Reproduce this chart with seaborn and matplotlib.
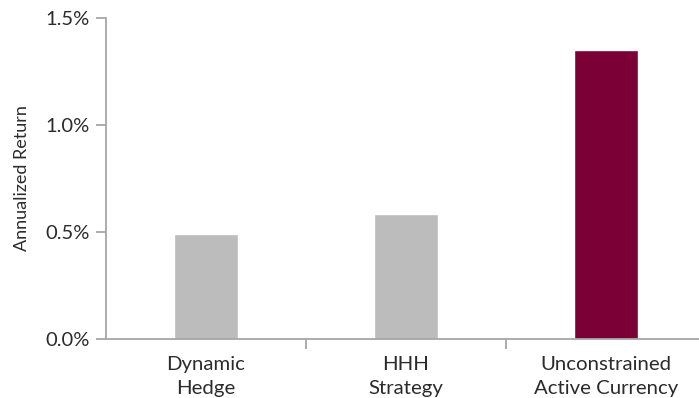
import matplotlib
matplotlib.use("Agg")
import matplotlib.pyplot as plt
import seaborn as sns
import pandas as pd
from matplotlib.ticker import FuncFormatter, FixedLocator

categories = ["Dynamic\nHedge", "HHH\nStrategy", "Unconstrained\nActive Currency"]
returns = [0.49, 0.585, 1.35]
bar_colors = ["#bbbcbb", "#bbbcbb", "#7a0036"]
y_ticks = [0.0, 0.5, 1.0, 1.5]

df = pd.DataFrame({"category": categories, "ret": returns})

sns.set_style("white")
plt.rcParams["font.family"] = ["Lato", "DejaVu Sans"]

fig = plt.figure(figsize=(6.99, 3.98), dpi=100)
ax = fig.add_axes([106 / 699, 59 / 398, 600 / 699, 321 / 398])

sns.barplot(data=df, x="category", y="ret", hue="category",
            palette=bar_colors, width=0.32, ax=ax, legend=False,
            saturation=1)

ax.set_xlim(-0.5, 2.5)
ax.set_ylim(0, 1.5)
ax.set_yticks(y_ticks)
ax.yaxis.set_major_formatter(FuncFormatter(lambda v, _: f"{v:.1f}%"))

axis_color = "#a6a6a6"
text_color = "#2b2b2b"
for side in ["top", "right"]:
    ax.spines[side].set_visible(False)
for side in ["left", "bottom"]:
    ax.spines[side].set_color(axis_color)
    ax.spines[side].set_linewidth(1.3)

ax.tick_params(axis="y", which="major", direction="out", length=7, width=1.3,
               color=axis_color, labelsize=14.5, labelcolor=text_color, pad=5, left=True)
ax.tick_params(axis="x", which="major", length=0, labelsize=14.7,
               labelcolor=text_color, pad=12)
ax.xaxis.set_minor_locator(FixedLocator([0.5, 1.5]))
ax.tick_params(axis="x", which="minor", direction="out", length=7, width=1.3,
               color=axis_color, bottom=True)
for lbl in ax.get_xticklabels():
    lbl.set_linespacing(1.5)

ax.set_xlabel("")
ax.set_ylabel("Annualized Return", fontsize=13, color=text_color, labelpad=11)

fig.savefig("out.png", dpi=100)
